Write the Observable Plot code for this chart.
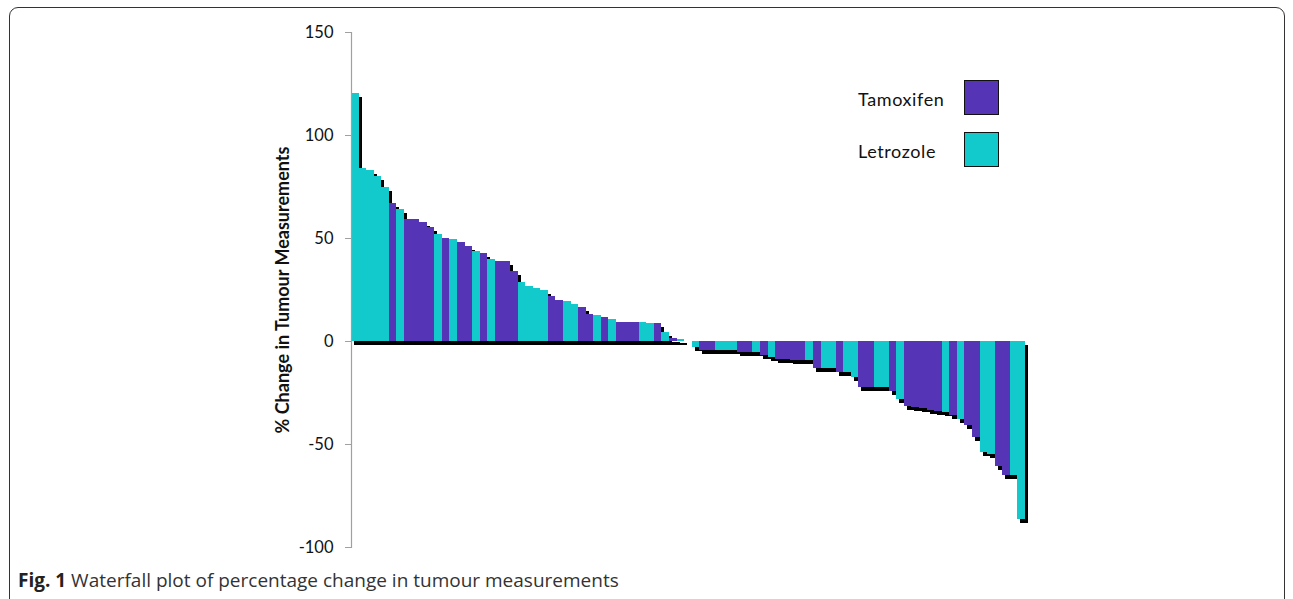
<!DOCTYPE html>
<html>
<head>
<meta charset="utf-8">
<script src="https://cdn.jsdelivr.net/npm/d3@7"></script>
<script src="https://cdn.jsdelivr.net/npm/@observablehq/plot@0.6"></script>
<style>
  html, body { margin: 0; padding: 0; background: #fff; }
  #wrap { position: relative; width: 1293px; height: 599px; overflow: hidden; }
  #border { position: absolute; left: 9px; top: 7px; width: 1274px; height: 600px;
            border: 1.5px solid #333; border-radius: 9px; pointer-events: none; }
  #legend { position: absolute; left: 0; top: 0; font-family: Lato, sans-serif; font-size: 18px; color: #111; }
  .lg-text { position: absolute; left: 858px; white-space: nowrap; letter-spacing: 0.6px; }
  .lg-box { position: absolute; left: 964px; width: 33px; height: 33px; border: 1.5px solid #111; }
  #caption { position: absolute; left: 18px; top: 567px; font-family: "Open Sans", sans-serif;
             font-size: 19px; color: #333; white-space: nowrap; }
  #caption b { color: #222; }
</style>
</head>
<body>
<div id="wrap">
  <div id="chart"></div>
  <div id="legend"></div>
  <div id="caption"><b>Fig. 1</b> Waterfall plot of percentage change in tumour measurements</div>
  <div id="border"></div>
</div>
<script>
// Percentage change per patient, ordered as in the waterfall
const changes = [
  120.2, 83.8, 83.0, 80.1, 74.9, 67.1, 63.9, 59.1, 59.1, 57.9,
  55.5, 51.9, 50.2, 49.7, 47.9, 46.3, 43.8, 42.9, 39.8, 38.8,
  38.8, 33.8, 28.8, 26.8, 25.6, 24.8, 21.8, 19.9, 19.6, 18.0,
  16.7, 13.1, 12.6, 11.5, 10.5, 9.4, 9.4, 9.4, 9.4, 8.6,
  8.6, 4.5, 1.3, 1.2, 0, -2.7, -4.4, -4.4, -4.4, -4.4,
  -4.4, -5.5, -5.5, -5.5, -6.8, -7.6, -8.5, -8.7, -9.2, -9.3,
  -9.4, -13.3, -13.3, -13.3, -14.9, -14.9, -17.3, -22.5, -22.5, -22.5,
  -22.5, -24.1, -28.2, -31.6, -32.0, -32.7, -33.5, -34.0, -34.5, -35.9,
  -38.0, -40.8, -46.8, -53.7, -55.0, -60.7, -65.0, -65.0, -86.6
];
// Treatment arm per patient: T = Tamoxifen, L = Letrozole
const arms = [
  "L","L","L","L","L","T","L","T","T","T",
  "T","L","T","L","T","T","L","T","L","T",
  "T","T","L","L","L","L","T","T","L","L",
  "T","T","L","T","L","T","T","T","L","L",
  "T","L","T","L","L","L","T","T","L","L",
  "L","T","T","L","T","L","T","T","T","T",
  "L","T","L","L","T","L","L","T","T","L",
  "L","T","L","T","T","T","T","T","L","T",
  "L","T","T","L","L","T","T","L","L"
];
const armNames = { T: "Tamoxifen", L: "Letrozole" };
const seriesNames = ["Tamoxifen", "Letrozole"];
const seriesColors = ["#5535b5", "#12c9cc"];
const yTicks = [-100, -50, 0, 50, 100, 150];
const yLabel = "% Change in Tumour Measurements";

const data = changes.map((v, i) => ({ i, v, arm: armNames[arms[i]] }));

const chart = Plot.plot({
  width: 1293,
  height: 560,
  marginTop: 32,
  marginBottom: 13,
  marginLeft: 351,
  marginRight: 268,
  style: { fontFamily: "Lato, sans-serif", background: "transparent" },
  x: { type: "band", domain: data.map(d => d.i), padding: 0, axis: null },
  y: { domain: [-100, 150], axis: null },
  color: { domain: seriesNames, range: seriesColors },
  marks: [
    Plot.barY(data, { x: "i", y: "v", fill: "#000", dx: 3, dy: 4, shapeRendering: "crispEdges" }),
    Plot.barY(data, { x: "i", y: "v", fill: "arm", shapeRendering: "crispEdges" }),
    Plot.frame({ anchor: "left", stroke: "#a0a0a0", strokeWidth: 1.2 }),
    Plot.axisY({ ticks: yTicks, tickSize: 6, tickPadding: 12, stroke: "#a0a0a0",
                 color: "#111", fontSize: 16.5, label: null, tickFormat: d => String(d) }),
    Plot.text([yLabel], { frameAnchor: "left", textAnchor: "middle", rotate: -90, dx: -68,
                          fontSize: 18, fontWeight: "bold", fill: "#111" })
  ]
});
document.getElementById("chart").appendChild(chart);

// Legend
const legend = document.getElementById("legend");
seriesNames.forEach((name, k) => {
  const t = document.createElement("div");
  t.className = "lg-text";
  t.textContent = name;
  t.style.top = (88 + k * 52) + "px";
  legend.appendChild(t);
  const b = document.createElement("div");
  b.className = "lg-box";
  b.style.top = (80 + k * 52) + "px";
  b.style.background = seriesColors[k];
  legend.appendChild(b);
});
</script>
</body>
</html>
